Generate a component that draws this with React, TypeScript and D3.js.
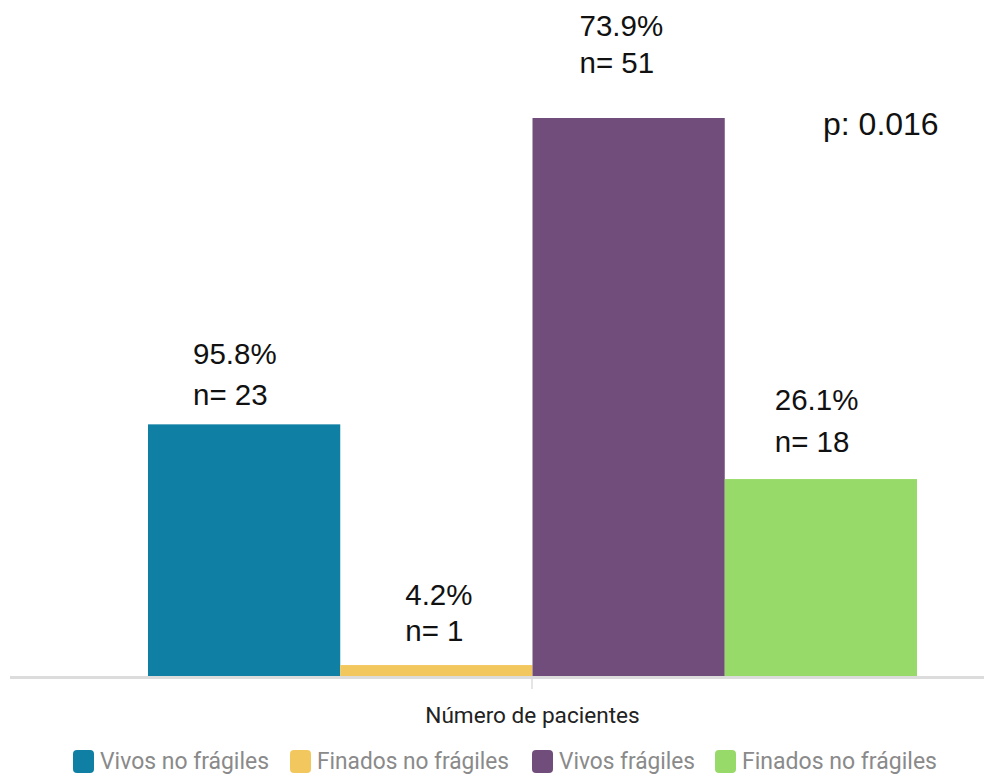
import React from "react";
import * as d3 from "d3";

const seriesKeys = ["vnf", "fnf", "vf", "fnf2"];
const seriesLabels = ["Vivos no frágiles", "Finados no frágiles", "Vivos frágiles", "Finados no frágiles"];
const counts = [23, 1, 51, 18];
const percents = ["95.8%", "4.2%", "73.9%", "26.1%"];
const colors = ["#0f80a4", "#f2c75e", "#714d7b", "#98da69"];
const axisTitle = "Número de pacientes";
const pValueText = "p: 0.016";

// annotation layout offsets (pixels relative to bar)
const labelDx = [45, 65, 47, 50];
const pctDy = [60, 60, 82, 69];
const nDy = [19, 24, 45, 27];

// legend layout
const legendX = [73, 290, 532, 715];
const legendTextW = [169, 192, 136, 195];

const W = 984;
const H = 775;

export default function App() {
  const x = d3.scaleBand<string>().domain(seriesKeys).range([148, 917]).padding(0);
  const y = d3.scaleLinear().domain([0, 51]).range([676, 118]);
  const annFont = "'Liberation Sans', Arial, sans-serif";
  const uiFont = "Roboto, 'Noto Sans', sans-serif";

  return (
    <svg width={W} height={H} style={{ position: "absolute", left: 0, top: 0, background: "#fff" }}>
      <rect x={0} y={0} width={W} height={H} fill="#fff" />
      {seriesKeys.map((k, i) => (
        <rect
          key={k}
          x={x(k)!}
          y={y(counts[i])}
          width={x.bandwidth()}
          height={y(0) - y(counts[i])}
          fill={colors[i]}
        />
      ))}
      <line x1={10} x2={984} y1={677.5} y2={677.5} stroke="#dcdcdc" strokeWidth={3} />
      <line x1={532} x2={532} y1={679} y2={689} stroke="#dcdcdc" strokeWidth={1.5} />
      {seriesKeys.map((k, i) => {
        const bx = x(k)! + labelDx[i];
        const top = y(counts[i]);
        return (
          <g key={"l" + k} fontFamily={annFont} fontSize={29.5} fill="#111">
            <text x={bx} y={top - pctDy[i]}>{percents[i]}</text>
            <text x={bx} y={top - nDy[i]}>{"n= " + counts[i]}</text>
          </g>
        );
      })}
      <text x={823} y={135} fontFamily={annFont} fontSize={32} fill="#111">{pValueText}</text>
      <text x={532.5} y={723} textAnchor="middle" fontFamily={uiFont} fontSize={22.6} fill="#222">{axisTitle}</text>
      {seriesKeys.map((k, i) => (
        <g key={"lg" + k}>
          <rect x={legendX[i]} y={750} width={21} height={23} rx={4} fill={colors[i]} />
          <text
            x={legendX[i] + 27}
            y={769}
            fontFamily={uiFont}
            fontSize={23}
            fill="#8a8a8a"
            textLength={legendTextW[i]}
            lengthAdjust="spacingAndGlyphs"
          >
            {seriesLabels[i]}
          </text>
        </g>
      ))}
    </svg>
  );
}
